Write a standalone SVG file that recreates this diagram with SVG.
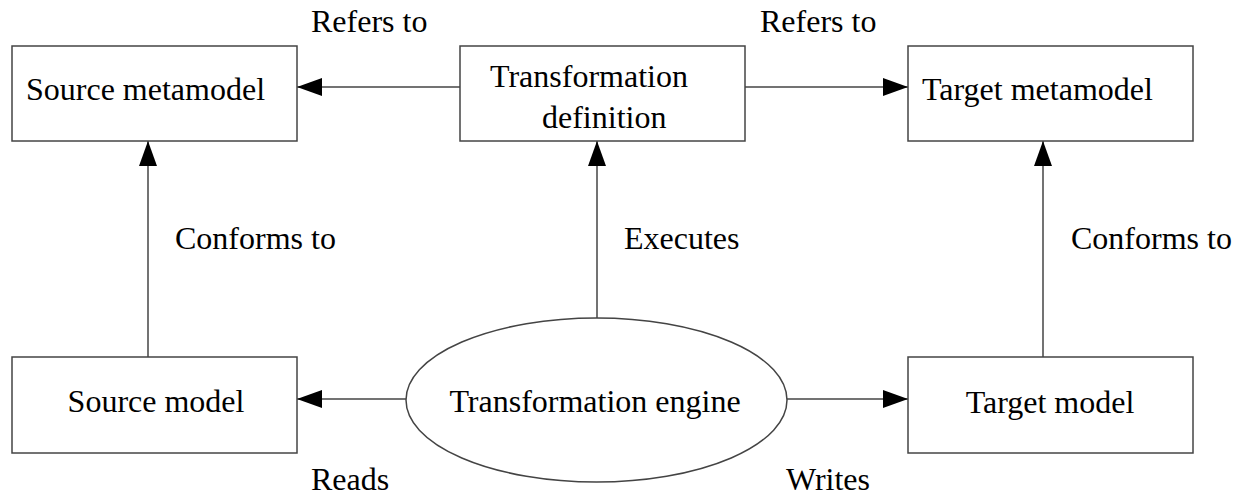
<svg xmlns="http://www.w3.org/2000/svg" width="1241" height="496" viewBox="0 0 1241 496">
<style>
.box{fill:#fff;stroke:#444;stroke-width:1.5}
.lbl{font-family:'Liberation Serif','Times New Roman','DejaVu Serif',serif;font-size:32px;fill:#000}
.edge{stroke:#444;stroke-width:1.5;fill:none}
</style>
<defs>
<marker id="arr" markerUnits="userSpaceOnUse" markerWidth="26" markerHeight="18" refX="25" refY="9" orient="auto">
<path d="M0,0 L25,9 L0,18 Z" fill="#000"/>
</marker>
</defs>
<rect width="1241" height="496" fill="#fff"/>
<g id="connectors">
<line class="edge" x1="460" y1="87" x2="297" y2="87" marker-end="url(#arr)"/>
<line class="edge" x1="745" y1="87" x2="908" y2="87" marker-end="url(#arr)"/>
<line class="edge" x1="148" y1="357" x2="148" y2="141" marker-end="url(#arr)"/>
<line class="edge" x1="597" y1="318" x2="597" y2="141" marker-end="url(#arr)"/>
<line class="edge" x1="1043" y1="357" x2="1043" y2="141" marker-end="url(#arr)"/>
<line class="edge" x1="406" y1="399" x2="297" y2="399" marker-end="url(#arr)"/>
<line class="edge" x1="787" y1="399" x2="908" y2="399" marker-end="url(#arr)"/>
<text class="lbl" font-family="Liberation Serif, serif" x="311" y="32">Refers to</text>
<text class="lbl" font-family="Liberation Serif, serif" x="760" y="32">Refers to</text>
<text class="lbl" font-family="Liberation Serif, serif" x="175" y="249">Conforms to</text>
<text class="lbl" font-family="Liberation Serif, serif" x="624" y="249">Executes</text>
<text class="lbl" font-family="Liberation Serif, serif" x="1071" y="249">Conforms to</text>
<text class="lbl" font-family="Liberation Serif, serif" x="311" y="490">Reads</text>
<text class="lbl" font-family="Liberation Serif, serif" x="786" y="490">Writes</text>
</g>
<g id="source-metamodel">
<rect class="box" x="12" y="46" width="285" height="95"/>
<text class="lbl" font-family="Liberation Serif, serif" x="26" y="100">Source metamodel</text>
</g>
<g id="transformation-definition">
<rect class="box" x="460" y="46" width="285" height="95"/>
<text class="lbl" font-family="Liberation Serif, serif" x="490" y="87">Transformation</text>
<text class="lbl" font-family="Liberation Serif, serif" x="542" y="128">definition</text>
</g>
<g id="target-metamodel">
<rect class="box" x="908" y="46" width="285" height="95"/>
<text class="lbl" font-family="Liberation Serif, serif" x="922" y="100">Target metamodel</text>
</g>
<g id="source-model">
<rect class="box" x="12" y="357" width="285" height="96"/>
<text class="lbl" font-family="Liberation Serif, serif" x="156" y="412" text-anchor="middle">Source model</text>
</g>
<g id="transformation-engine">
<ellipse class="box" cx="596.5" cy="400" rx="190.5" ry="82"/>
<text class="lbl" font-family="Liberation Serif, serif" x="595" y="412" text-anchor="middle">Transformation engine</text>
</g>
<g id="target-model">
<rect class="box" x="908" y="357" width="285" height="96"/>
<text class="lbl" font-family="Liberation Serif, serif" x="1050" y="413" text-anchor="middle">Target model</text>
</g>
</svg>
